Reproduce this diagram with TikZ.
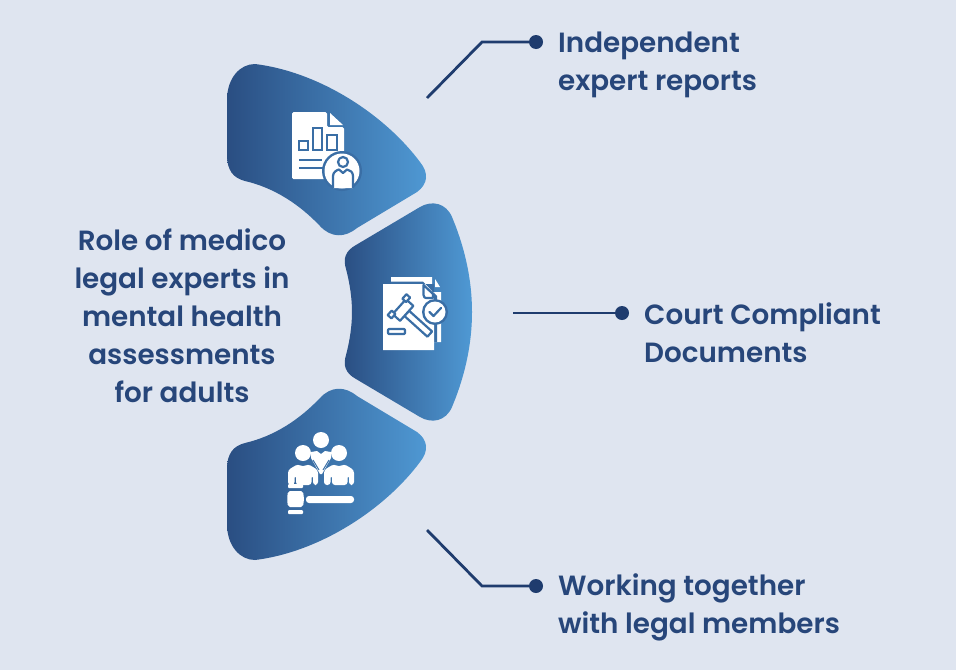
\documentclass[tikz,border=0pt]{standalone}
\usepackage{fontspec}
\setmainfont{Poppins}[UprightFont=* SemiBold]
\definecolor{bgc}{RGB}{223,229,240}
\definecolor{ink}{RGB}{39,70,122}
\definecolor{wire}{RGB}{31,60,110}
\definecolor{gradl}{RGB}{42,78,130}
\definecolor{gradr}{RGB}{79,153,212}
\definecolor{detail}{RGB}{58,110,165}
\tikzset{
  petal/.style={left color=gradl,right color=gradr,draw=none},
  wireline/.style={draw=wire,line width=2.8pt},
  dotend/.style={circle,fill=wire,draw=none,inner sep=0pt,minimum size=14pt},
  caption/.style={text=ink,inner sep=0pt,align=left,anchor=west,font=\fontsize{27.8}{38}\selectfont},
  titletext/.style={text=ink,inner sep=0pt,align=center,font=\fontsize{27.8}{38}\selectfont},
  ico/.style={fill=white,draw=none},
  icoline/.style={draw=detail,line width=2.2pt,fill=none},
  icofill/.style={draw=detail,line width=2.2pt,fill=white,line join=round}
}
\begin{document}
\begin{tikzpicture}[x=1pt,y=-1pt]
\useasboundingbox (0,0) rectangle (956,670);
\fill[bgc] (0,0) rectangle (956,670);
% petals
\shade[petal] (227,100) .. controls (227,78) and (240,64) .. (255,64)
  .. controls (320,72) and (385,115) .. (420,162)
  .. controls (429,173) and (428,184) .. (417,192)
  -- (357,228) .. controls (345,238) and (331,238) .. (320,226)
  .. controls (300,205) and (275,188) .. (245,181)
  .. controls (233,178) and (227,170) .. (227,155) -- cycle;
\shade[petal] (227,524) .. controls (227,546) and (240,560) .. (255,560)
  .. controls (320,552) and (385,509) .. (420,462)
  .. controls (429,451) and (428,440) .. (417,432)
  -- (357,396) .. controls (345,386) and (331,386) .. (320,398)
  .. controls (300,419) and (275,436) .. (245,443)
  .. controls (233,446) and (227,454) .. (227,469) -- cycle;
\shade[petal] (356,245) -- (420,207) .. controls (432,200) and (446,203) .. (452,217)
  .. controls (465,248) and (472,280) .. (472,312)
  .. controls (472,344) and (465,376) .. (452,407)
  .. controls (446,421) and (432,424) .. (420,417)
  -- (356,379) .. controls (345,373) and (343,365) .. (346,355)
  .. controls (350,340) and (352,325) .. (352,312)
  .. controls (352,299) and (350,284) .. (346,269)
  .. controls (343,259) and (345,251) .. (356,245) -- cycle;
% icon 1: report with person
\fill[ico,rounded corners=1.5pt] (292,112) -- (327,112) -- (327,127) -- (344,127) -- (344,179) -- (292,179) -- cycle;
\fill[ico] (330,113) -- (343,125) -- (330,125) -- cycle;
\draw[icoline] (299,141) rectangle (308,150);
\draw[icoline] (313,128) rectangle (322,150);
\draw[icoline] (327,135) rectangle (337,150);
\draw[icoline] (299,160) -- (322,160);
\draw[icoline] (299,168) -- (323,168);
\fill[detail] (342,171) circle (20);
\fill[ico] (342,171) circle (17.5);
\draw[icofill] (343,162) circle (5);
\draw[icofill] (333,188) -- (333,176) .. controls (333,172) and (337,170) .. (339,169.5) -- (343,173) -- (347,169.5) .. controls (350,170) and (353,172) .. (353,176) -- (353,188);
% icon 2: documents with gavel
\fill[ico] (391,277) -- (432,277) -- (432,292) -- (441,292) -- (441,342) -- (391,342) -- cycle;
\fill[ico] (435,279) -- (440,287) -- (435,287) -- cycle;
\fill[detail] (391,281.5) -- (423,281.5) -- (437,296) -- (437,342) -- (434,342) -- (434,284) -- (391,284) -- cycle;
\fill[ico] (383,284) -- (423,284) -- (423,303) -- (434,303) -- (434,350) -- (383,350) -- cycle;
\draw[icofill] (423.5,285) -- (423.5,295) .. controls (423.5,297) and (425,298) .. (426,298) -- (433,298) -- (433,294) -- cycle;
\begin{scope}[shift={(403,310)},rotate=-42]
  \draw[icofill] (5,-3.5) rectangle (36,3.5);
  \draw[icofill] (-5,-10) rectangle (5,10);
  \draw[icofill] (-8,-14) rectangle (-3,-8);
  \draw[icofill] (-8,8) rectangle (-3,14);
\end{scope}
\draw[icofill,rounded corners=1pt] (388,329) rectangle (405,334);
\fill[detail] (435,312) circle (13);
\fill[ico] (435,312) circle (10.5);
\draw[detail,line width=2.2pt,line cap=round,line join=round] (429.5,312) -- (433.5,316) -- (441,308);
% icon 3: three people and gavel
\fill[ico] (321,440) circle (8);
\fill[ico] (303,453) circle (8);
\fill[ico] (339,453) circle (8);
\fill[ico] (311,452) -- (317,451) -- (321,454) -- (325,451) -- (331,452) -- (331,458) -- (322,474) -- (320,474) -- (311,458) -- cycle;
\fill[ico,rounded corners=3pt] (288,485) -- (288,470) -- (298,464) -- (303,467) -- (308,464) -- (318,470) -- (318,485) -- (313,485) -- (313,475) -- (311.5,475) -- (311.5,485) -- (296,485) -- (296,475) -- (294.5,475) -- (294.5,485) -- cycle;
\fill[ico,rounded corners=3pt] (324,485) -- (324,470) -- (334,464) -- (339,467) -- (344,464) -- (354,470) -- (354,485) -- (349,485) -- (349,475) -- (347.5,475) -- (347.5,485) -- (332,485) -- (332,475) -- (330.5,475) -- (330.5,485) -- cycle;
\draw[detail,line width=1pt] (313,460) -- (319,470) (329,460) -- (323,470);
\fill[ico,rounded corners=1pt] (288,484) rectangle (303,488);
\fill[ico,rounded corners=2pt] (288,491) -- (303,491) -- (304,499) -- (303,507) -- (288,507) -- (287,499) -- cycle;
\fill[ico,rounded corners=1pt] (288,510) rectangle (303,514);
\fill[ico,rounded corners=3pt] (306,496) rectangle (354,503);
% captions
\node[titletext] (title) at (182,316) {Role of medico\\legal experts in\\mental health\\assessments\\for adults};
\node[caption] (capA) at (558,65) {Independent\\expert reports};
\node[caption] (capB) at (644,333) {Court Compliant\\Documents};
\node[caption] (capC) at (558,607) {Working together\\with legal members};
% connectors
\node[dotend] (dotA) at (536,42) {};
\node[dotend] (dotB) at (622,313) {};
\node[dotend] (dotC) at (536,586) {};
\coordinate (startA) at (427,98);
\coordinate (bendA) at (482,42);
\coordinate (startB) at (513,313);
\coordinate (startC) at (427,530);
\coordinate (bendC) at (482,586);
\draw[wireline] (startA) -- (bendA) -- (dotA.center);
\draw[wireline] (startB) -- (dotB.center);
\draw[wireline] (startC) -- (bendC) -- (dotC.center);
\end{tikzpicture}
\end{document}
